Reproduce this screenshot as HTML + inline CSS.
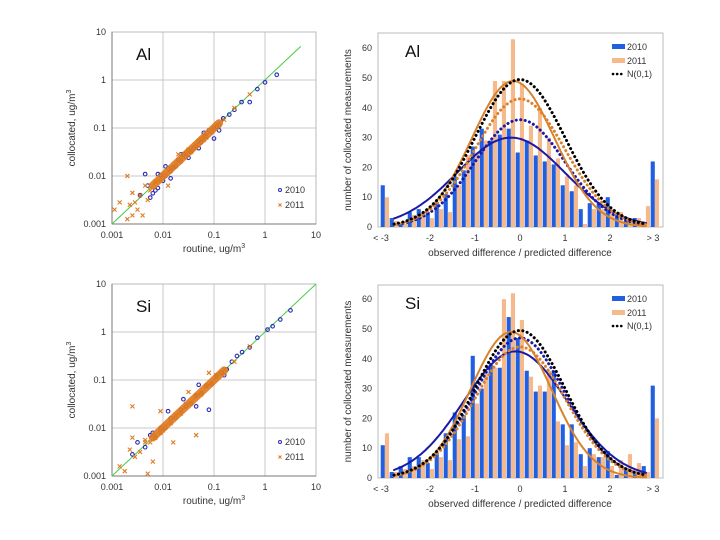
<!DOCTYPE html>
<html><head><meta charset="utf-8">
<style>
html,body{margin:0;padding:0;background:#fff;}
svg{display:block;font-family:"Liberation Sans",sans-serif;}
</style></head>
<body>
<svg id="chart" width="720" height="540" viewBox="0 0 720 540" xmlns="http://www.w3.org/2000/svg"></svg>
<script>
// ---------- Histogram data ----------
const binCenters = [-3,-2.8,-2.6,-2.4,-2.2,-2,-1.8,-1.6,-1.4,-1.2,-1,-0.8,-0.6,-0.4,-0.2,0,0.2,0.4,0.6,0.8,1,1.2,1.4,1.6,1.8,2,2.2,2.4,2.6,2.8,3];
const xTickValues = [-3,-2,-1,0,1,2,3];
const xTickLabels = ["< -3","-2","-1","0","1","2","> 3"];
const yTickValues = [0,10,20,30,40,50,60];
const alCounts2010 = [14,3,1,5,6,5,8,11,17,19,27,33,29,31,33,25,29,24,22,21,14,12,6,8,8,10,4,2,3,1,22];
const alCounts2011 = [10,2,1,4,4,3,6,5,14,24,25,29,49,49,63,48,34,40,30,23,17,14,1,6,6,5,5,3,3,7,16];
const siCounts2010 = [11,2,4,7,7,5,8,15,22,21,41,30,38,37,54,47,36,29,29,36,18,18,8,10,7,9,1,3,2,4,31];
const siCounts2011 = [15,2,3,4,6,3,7,6,13,14,25,35,37,60,62,53,34,31,36,19,11,12,4,8,7,4,6,8,5,2,20];
// gaussian fits: [peak, mean, sigma]
const alFit2010 = [30,-0.2,1.2];
const alNorm2010 = [36,0,1];
const alFit2011 = [49,-0.15,0.92];
const alNorm2011 = [43,0,1];
const alNormAll = [49.5,0,1];
const siFit2010 = [42.5,-0.1,1.15];
const siNorm2010 = [47,0,1];
const siFit2011 = [49,-0.2,0.9];
const siNorm2011 = [44,0,1];
const siNormAll = [49.5,0,1];

// ---------- Scatter data (log10 values) ----------
const alX2010 = [0.23,0,-0.15,-0.3,-0.46,-0.6,-0.7,-0.82,-0.9,-0.95,-1.0,-1.05,-1.1,-1.15,-1.2,-1.25,-1.3,-1.35,-1.4,-1.45,-1.5,-1.55,-1.6,-1.65,-1.7,-1.75,-1.8,-1.85,-1.9,-1.95,-2.0,-2.05,-2.1,-2.15,-2.2,-2.3,-2.35,-2.45,-1.0,-1.3,-1.65,-1.95,-2.1,-1.85,-1.5,-1.2,-0.9,-2.25];
const alY2010 = [0.11,-0.05,-0.19,-0.46,-0.46,-0.62,-0.72,-0.8,-0.95,-0.98,-1.0,-1.08,-1.05,-1.18,-1.2,-1.3,-1.27,-1.38,-1.42,-1.5,-1.46,-1.6,-1.55,-1.7,-1.66,-1.8,-1.82,-1.9,-1.84,-2.0,-2.1,-1.98,-2.25,-2.3,-2.36,-2.2,-1.96,-2.4,-1.22,-1.42,-1.55,-1.8,-1.96,-2.05,-1.62,-1.1,-1.05,-2.45];
const alX2011 = [-0.3,-0.6,-0.8,-0.95,-1.05,-1.15,-1.25,-1.35,-1.45,-1.55,-1.65,-1.75,-1.85,-1.95,-2.05,-2.15,-2.25,-2.35,-2.45,-2.55,-2.65,-2.7,-2.85,-2.95,-2.6,-2.4,-2.3,-1.9,-1.7,-1.5,-1.2,-2.7,-2.6,-2.5];
const alY2011 = [-0.3,-0.58,-0.83,-0.92,-1.05,-1.2,-1.22,-1.35,-1.5,-1.52,-1.68,-1.74,-1.88,-1.95,-2.1,-2.12,-2.3,-2.2,-2.4,-2.55,-2.6,-2.0,-2.55,-2.7,-2.82,-2.82,-2.5,-2.2,-1.55,-1.45,-1.25,-2.9,-2.35,-2.7];
const siX2010 = [0.5,0.3,0.15,0.05,-0.15,-0.3,-0.45,-0.55,-0.65,-0.75,-0.85,-0.95,-1.05,-1.15,-1.25,-1.35,-1.45,-1.55,-1.65,-1.75,-1.85,-1.95,-2.05,-2.15,-2.25,-2.35,-2.5,-2.6,-1.1,-1.35,-1.6,-1.9,-2.2,-1.3,-0.8];
const siY2010 = [0.45,0.26,0.12,0.05,-0.12,-0.32,-0.42,-0.5,-0.62,-0.78,-0.85,-0.92,-1.08,-1.12,-1.28,-1.32,-1.5,-1.55,-1.62,-1.78,-1.8,-2.0,-2.0,-2.2,-2.15,-2.4,-2.3,-2.55,-1.62,-1.55,-1.4,-1.65,-2.1,-1.1,-0.9];
const siX2011 = [-0.3,-0.6,-0.8,-0.95,-1.05,-1.15,-1.25,-1.35,-1.45,-1.55,-1.65,-1.75,-1.85,-1.95,-2.05,-2.15,-2.25,-2.35,-2.45,-2.55,-2.65,-2.75,-2.85,-2.6,-2.2,-2.3,-2.35,-1.35,-1.1,-1.8,-2.05,-1.5,-2.6,-2.0];
const siY2011 = [-0.3,-0.62,-0.78,-0.9,-1.08,-1.12,-1.3,-1.32,-1.48,-1.5,-1.7,-1.72,-1.9,-1.95,-2.1,-2.2,-2.3,-2.3,-2.5,-2.6,-2.45,-2.9,-2.8,-1.55,-2.7,-2.95,-2.25,-2.15,-0.85,-2.3,-1.65,-1.25,-2.2,-2.05];
const decadeLabels = ["0.001","0.01","0.1","1","10"];

const NS="http://www.w3.org/2000/svg";
const svg=document.getElementById('chart');
function mk(tag,attrs,parent){const e=document.createElementNS(NS,tag);for(const k in attrs)e.setAttribute(k,attrs[k]);(parent||svg).appendChild(e);return e;}
function txt(s,attrs,parent){const e=mk('text',attrs,parent);e.textContent=s;return e;}

// ---------- Scatter panel ----------
function scatter(top,label,bx,by,ox,oy,lineEnd,bandEnd,prefix){
  const L=112,R=316,T=top,B=top+192;
  const sx=v=>L+(v+3)*(R-L)/4;
  const sy=v=>B-(v+3)*(B-T)/4;
  const g=mk('g',{});
  
  
  for(let i=1;i<4;i++){
    const gl=mk('line',{x1:sx(i-3),x2:sx(i-3),y1:T,y2:B,stroke:'#c8c8c8','stroke-width':1},g);
    
    const gh=mk('line',{x1:L,x2:R,y1:sy(i-3),y2:sy(i-3),stroke:'#c8c8c8','stroke-width':1},g);
    
  }
  const fr=mk('rect',{x:L,y:T,width:R-L,height:B-T,fill:'none',stroke:'#bbb'},g);
  
  const ax=mk('line',{x1:L,x2:L,y1:T,y2:B,stroke:'#777'},g);
  
  const ax2=mk('line',{x1:L,x2:R,y1:B,y2:B,stroke:'#777'},g);
  
  for(let i=0;i<5;i++){
    const t=txt(decadeLabels[i],{x:sx(i-3),y:B+14,'font-size':9,'text-anchor':'middle',fill:'#333'},g);
    
    const t2=txt(decadeLabels[i],{x:L-6,y:sy(i-3)+3,'font-size':9,'text-anchor':'end',fill:'#333'},g);
    
  }
  const one=mk('line',{x1:sx(-3),y1:sy(-3),x2:sx(lineEnd),y2:sy(lineEnd),stroke:'#44cc44','stroke-width':1},g);
  
  for(let i=0;i<bx.length;i++){
    const c=mk('circle',{cx:sx(bx[i]),cy:sy(by[i]),r:1.8,fill:'none',stroke:'#2a2ab8','stroke-width':1.1},g);
    
  }
  // density band
  const band=mk('line',{x1:sx(-2.2),y1:sy(-2.2),x2:sx(bandEnd),y2:sy(bandEnd),stroke:'#e07a1f','stroke-width':8,'stroke-linecap':'round',opacity:0.9},g);
  
  for(let i=0;i<ox.length;i++){
    const x=sx(ox[i]),y=sy(oy[i]);
    const p=mk('path',{d:`M${x-2},${y-2}L${x+2},${y+2}M${x-2},${y+2}L${x+2},${y-2}`,stroke:'#e07a1f','stroke-width':1.1},g);
    
  }
  const pl=txt(label,{x:136,y:T+28,'font-size':17,fill:'#111'},g);
  
  const l1=mk('circle',{cx:280,cy:T+158,r:1.5,fill:'none',stroke:'#2a2ab8'},g);
  
  const lt1=txt('2010',{x:285,y:T+161,'font-size':9,fill:'#333'},g);
  
  const l2=mk('path',{d:`M278.5,${T+171.5}L281.5,${T+174.5}M278.5,${T+174.5}L281.5,${T+171.5}`,stroke:'#e07a1f'},g);
  
  const lt2=txt('2011',{x:285,y:T+176,'font-size':9,fill:'#333'},g);
  
  const xt=txt('',{x:214,y:B+28,'font-size':10,'text-anchor':'middle',fill:'#333'},g);
  xt.innerHTML='routine,  ug/m<tspan dy="-4" font-size="7">3</tspan>';
  
  const yt=txt('',{x:0,y:0,'font-size':10,'text-anchor':'middle',fill:'#333',transform:`translate(75,${(T+B)/2}) rotate(-90)`},g);
  yt.innerHTML='collocated,  ug/m<tspan dy="-4" font-size="7">3</tspan>';
  
}

// ---------- Histogram panel ----------
function hist(top,zeroY,label,c10,c11,fits,prefix){
  const L=378,R=663,T=top,B=zeroY;
  const sx=v=>520+v*45;
  const sy=v=>B-v*2.98;
  const g=mk('g',{});
  
  
  const fr=mk('rect',{x:L,y:T,width:R-L,height:B-T,fill:'none',stroke:'#bbb'},g);
  
  for(const v of yTickValues){
    const t=txt(String(v),{x:L-6,y:sy(v)+3,'font-size':9,'text-anchor':'end',fill:'#333'},g);
    
  }
  for(let i=0;i<xTickValues.length;i++){
    let x=sx(xTickValues[i]);
    if(i===0)x-=4; if(i===xTickValues.length-1)x-=2;
    const t=txt(xTickLabels[i],{x:x,y:B+14,'font-size':9,'text-anchor':'middle',fill:'#333'},g);
    
  }
  for(let i=0;i<binCenters.length;i++){
    const c=sx(binCenters[i]);
    const b=mk('rect',{x:c-4.3,y:sy(c10[i]),width:4.1,height:B-sy(c10[i]),fill:'#1f5fe0'},g);
    
    const o=mk('rect',{x:c-0.1,y:sy(c11[i]),width:4.1,height:B-sy(c11[i]),fill:'#f5b98c'},g);
    
  }
  const styles=[
    {stroke:'#1a1aa8',dash:null,name:'fit-2010'},
    {stroke:'#1a1aa8',dash:'0.1 4.4',name:'normal-2010'},
    {stroke:'#d9822b',dash:null,name:'fit-2011'},
    {stroke:'#d9822b',dash:'0.1 4.4',name:'normal-2011'},
    {stroke:'#000',dash:'0.1 4.4',name:'normal-combined'}];
  fits.forEach((f,k)=>{
    let d='';
    for(let v=-2.8;v<=2.801;v+=0.05){
      const y=f[0]*Math.exp(-0.5*Math.pow((v-f[1])/f[2],2));
      d+=(d?'L':'M')+sx(v).toFixed(1)+','+sy(y).toFixed(1);
    }
    const st=styles[k];
    const a={d:d,fill:'none',stroke:st.stroke,'stroke-width':st.dash?3:2,'stroke-linecap':'round'};
    if(st.dash)a['stroke-dasharray']=st.dash;
    const p=mk('path',a,g);
    
  });
  const pl=txt(label,{x:405,y:T+24,'font-size':17,fill:'#111'},g);
  
  const s1=mk('rect',{x:612,y:T+11,width:13,height:5,fill:'#1f5fe0'},g);
  
  const t1=txt('2010',{x:627,y:T+17,'font-size':9,fill:'#333'},g);
  
  const s2=mk('rect',{x:612,y:T+25,width:13,height:5,fill:'#f5b98c'},g);
  
  const t2=txt('2011',{x:627,y:T+31,'font-size':9,fill:'#333'},g);
  
  const s3=mk('line',{x1:613,x2:623,y1:T+41,y2:T+41,stroke:'#000','stroke-width':2.6,'stroke-dasharray':'0.1 4','stroke-linecap':'round'},g);
  
  const t3=txt('N(0,1)',{x:627,y:T+44,'font-size':9,fill:'#333'},g);
  
  const xt=txt('observed difference / predicted difference',{x:520,y:B+29,'font-size':10,'text-anchor':'middle',fill:'#333'},g);
  
  const yt=txt('number of collocated measurements',{x:0,y:0,'font-size':10,'text-anchor':'middle',fill:'#333',transform:`translate(351,${(T+B)/2}) rotate(-90)`},g);
  
}

scatter(32,'Al',alX2010,alY2010,alX2011,alY2011,0.7,-0.9,'al');
scatter(284,'Si',siX2010,siY2010,siX2011,siY2011,1,-0.8,'si');
hist(33,227,'Al',alCounts2010,alCounts2011,[alFit2010,alNorm2010,alFit2011,alNorm2011,alNormAll],'al');
hist(285,478,'Si',siCounts2010,siCounts2011,[siFit2010,siNorm2010,siFit2011,siNorm2011,siNormAll],'si');
</script>
</body></html>
